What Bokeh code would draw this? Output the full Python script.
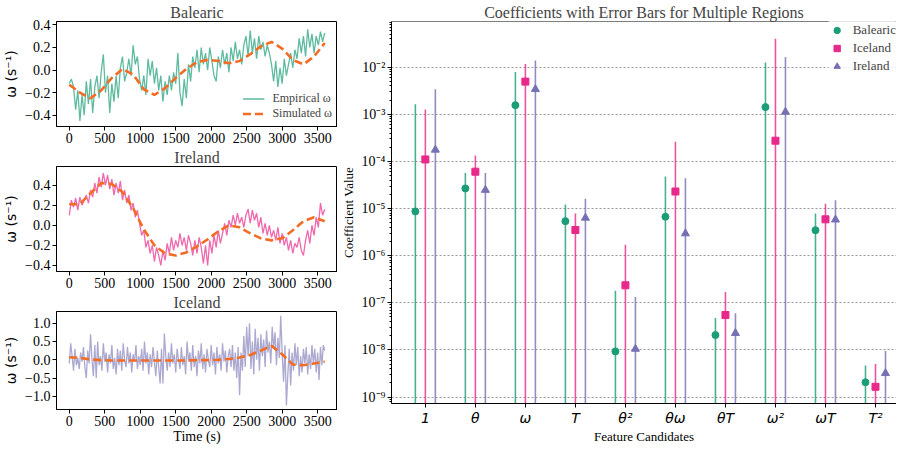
import numpy as np
from bokeh.plotting import figure
from bokeh.models import (ColumnDataSource, Range1d, FixedTicker, CustomJSTickFormatter,
                          Legend, LegendItem, BoxAnnotation)
from bokeh.layouts import row, column
from bokeh.embed import file_html
from bokeh.resources import INLINE

SERIF = "Liberation Serif"
MATH = "DejaVu Sans"

# ---------------- time series data (omega, s^-1) ----------------
balearic_emp = [-0.12, -0.08, -0.15, -0.35, -0.18, -0.45, -0.22, -0.40, -0.10, -0.30,
                -0.08, -0.38, -0.15, -0.05, -0.25, -0.02, 0.14, -0.20, -0.05, -0.38,
                -0.12, -0.28, -0.05, -0.25, 0.02, 0.12, -0.10, -0.02, 0.10, -0.05,
                0.22, 0.05, 0.12, -0.08, -0.18, -0.05, -0.22, 0.10, -0.05, 0.08,
                -0.12, 0.02, -0.18, -0.05, -0.28, -0.10, -0.22, -0.05, -0.18, -0.02,
                -0.12, 0.15, -0.20, -0.32, -0.08, -0.25, 0.05, -0.10, 0.12, 0.02,
                0.18, -0.02, 0.20, 0.05, 0.15, 0.00, 0.20, 0.08, -0.05, -0.10,
                0.12, 0.02, 0.18, 0.05, 0.15, -0.02, 0.20, 0.08, 0.25, 0.10,
                0.18, 0.05, 0.22, 0.30, 0.12, 0.35, 0.15, 0.28, 0.10, 0.30,
                0.18, 0.25, 0.12, 0.22, 0.15, 0.05, -0.10, 0.08, -0.15, 0.02,
                -0.12, 0.10, -0.05, 0.05, 0.15, 0.02, 0.18, 0.10, 0.28, 0.15,
                0.30, 0.12, 0.36, 0.20, 0.32, 0.15, 0.30, 0.22, 0.34, 0.25, 0.33]
balearic_sim = [-0.13, -0.20, -0.25, -0.18, -0.07, 0.01, -0.04, -0.17, -0.22, -0.16,
                -0.07, 0.01, 0.07, 0.09, 0.08, 0.06, 0.08, 0.14, 0.21, 0.25,
                0.19, 0.09, 0.05, 0.12, 0.24]

ireland_emp = [0.10, 0.25, 0.18, 0.27, 0.15, 0.28, 0.20, 0.25, 0.30, 0.22,
               0.35, 0.28, 0.42, 0.32, 0.48, 0.38, 0.52, 0.40, 0.50, 0.36,
               0.46, 0.30, 0.42, 0.32, 0.44, 0.25, 0.35, 0.22, 0.30, 0.15,
               0.22, 0.08, 0.15, 0.02, -0.10, -0.05, -0.22, -0.15, -0.28, -0.20,
               -0.36, -0.22, -0.30, -0.40, -0.25, -0.35, -0.18, -0.28, -0.12, -0.25,
               -0.15, -0.22, -0.08, -0.20, -0.12, -0.25, -0.10, -0.18, -0.30, -0.15,
               -0.28, -0.12, -0.22, -0.38, -0.20, -0.40, -0.15, -0.28, -0.10, -0.22,
               -0.05, -0.18, -0.08, 0.02, -0.10, 0.05, -0.02, 0.10, 0.00, 0.12,
               0.02, 0.08, -0.02, 0.10, 0.16, 0.02, 0.15, 0.05, 0.12, -0.02,
               0.08, -0.08, 0.02, -0.10, 0.00, -0.12, -0.05, -0.15, -0.02, -0.18,
               -0.08, -0.20, -0.12, -0.25, -0.15, -0.28, -0.18, -0.22, -0.12, -0.25,
               -0.30, -0.15, -0.05, -0.18, 0.00, -0.10, 0.08, -0.02, 0.22, 0.10, 0.16]
ireland_sim = [0.21, 0.21, 0.32, 0.42, 0.41, 0.33, 0.17, -0.04, -0.20, -0.28,
               -0.30, -0.27, -0.21, -0.14, -0.06, 0.00, -0.02, -0.08, -0.13, -0.15,
               -0.13, -0.05, 0.04, 0.08, 0.04]

iceland_emp = [-0.10, 0.45, 0.10, -0.30, 0.30, -0.15, 0.05, -0.25, 0.20, -0.05,
               0.35, -0.20, -0.50, 0.25, -0.10, 0.70, 0.00, -0.45, 0.40, -0.50,
               0.50, -0.15, 0.10, -0.30, 0.45, -0.05, 0.20, -0.35, 0.15, -0.10,
               0.40, -0.25, 0.05, -0.40, 0.30, -0.15, 0.25, -0.30, 0.45, 0.00,
               -0.20, 0.35, -0.10, 0.20, -0.35, 0.15, -0.05, 0.40, -0.25, 0.10,
               -0.15, 0.30, -0.30, 0.50, -0.10, 0.20, -0.40, 0.15, -0.20, 0.35,
               -0.05, -0.45, 0.25, -0.20, -0.65, 0.30, -0.65, 0.72, 0.10, -0.30,
               0.20, -0.20, 0.45, -0.10, 0.15, -0.35, 0.30, 0.00, -0.25, 0.35,
               -0.15, 0.10, -0.40, 0.50, -0.05, 0.20, -0.30, 0.40, -0.20, 0.10,
               -0.45, 0.25, -0.10, 0.45, -0.25, 0.15, -0.35, 0.30, 0.00, -0.20,
               0.40, -0.15, 0.20, -0.40, 0.35, -0.10, 0.15, -0.30, 0.45, -0.05,
               0.25, -0.35, 0.10, 0.30, -0.20, 0.40, -0.30, 0.20, -0.50, 0.35,
               -0.97, 0.20, -0.30, 0.65, -0.20, 0.90, 0.10, 1.00, -0.25, 0.50,
               -0.40, 0.85, 0.00, 0.60, -0.30, 0.70, 0.10, 0.55, -0.20, 0.80,
               0.20, 0.50, -0.10, 0.90, 0.30, 0.75, -0.15, 0.60, 0.05, 1.20,
               0.20, -0.60, 0.40, -1.25, -0.40, 0.30, -0.70, 0.20, -0.30, 0.45,
               -0.15, 0.35, -0.45, 0.10, -0.35, 0.30, -0.10, 0.35, -0.40, 0.15,
               -0.25, 0.40, -0.10, 0.30, -0.35, 0.20, -0.55, 0.35, -0.15, 0.40, 0.25]
iceland_sim = [0.07, 0.05, 0.01, -0.01, -0.02, -0.02, -0.02, -0.02, -0.02, -0.02,
               -0.02, -0.02, -0.01, -0.01, 0.00, 0.02, 0.06, 0.13, 0.25, 0.38,
               0.15, -0.13, -0.15, -0.10, -0.05]

time_ticks = [0, 500, 1000, 1500, 2000, 2500, 3000, 3500]
omega_ticks_small = [-0.4, -0.2, 0.0, 0.2, 0.4]
omega_ticks_large = [-1.0, -0.5, 0.0, 0.5, 1.0]

# ---------------- coefficient data ----------------
categories = ["1", "θ", "ω", "T", "θ²", "θω", "θT", "ω²", "ωT", "T²"]
balearic_coef = [8.7e-6, 2.67e-5, 1.56e-3, 5.4e-6, 9.3e-9, 6.7e-6, 2.07e-8, 1.42e-3, 3.47e-6, 2.06e-9]
balearic_err = [1.63e-3, 3.0e-5, 6.3e-3, 6.8e-6, 1.71e-7, 4.1e-5, 2.7e-8, 1.12e-2, 4.4e-6, 2.6e-9]
iceland_coef = [1.1e-4, 6.05e-5, 4.93e-3, 3.5e-6, 2.35e-7, 2.3e-5, 5.5e-8, 2.75e-4, 5.9e-6, 1.65e-9]
iceland_err = [1.15e-3, 7.3e-5, 6.8e-3, 4.35e-6, 1.48e-6, 2.37e-4, 1.15e-7, 3.97e-2, 6.7e-6, 3.35e-9]
ireland_coef = [1.76e-4, 2.47e-5, 3.4e-3, 6.35e-6, 1.05e-8, 2.95e-6, 2.27e-8, 1.12e-3, 5.8e-6, 3.2e-9]
ireland_err = [3.22e-3, 3.23e-5, 1.05e-2, 9.85e-6, 1.215e-7, 4.1e-5, 3.73e-8, 1.52e-2, 9.2e-6, 6.3e-9]
log_ticks = [1e-9, 1e-8, 1e-7, 1e-6, 1e-5, 1e-4, 1e-3, 1e-2]

GREEN, PINK, PURPLE, ORANGE = "#1b9e77", "#e7298a", "#7570b3", "#f36c24"
X_LO, X_HI = -0.677, 9.42
Y_LO, Y_TOP = 7.3e-10, 0.093

num_fmt = CustomJSTickFormatter(code="return tick.toFixed(1).replace('-', '\u2212');")


def style_axes(p):
    for ax in (p.xaxis, p.yaxis):
        ax.major_label_text_font = SERIF
        ax.major_label_text_font_size = "14px"
        ax.major_label_text_color = "black"
        ax.major_label_text_line_height = 1.0
        ax.axis_label_text_font = SERIF
        ax.axis_label_text_font_style = "normal"
        ax.axis_label_text_color = "black"
        ax.axis_label_text_line_height = 1.0
        ax.axis_line_color = "black"
        ax.major_tick_line_color = "black"
        ax.major_tick_out = 4
        ax.major_tick_in = 0
        ax.minor_tick_line_color = None
        ax.major_label_standoff = 2
        ax.axis_label_standoff = 3
    p.xaxis.axis_label_standoff = 0
    p.title.text_font = SERIF
    p.title.text_font_size = "16px"
    p.title.text_font_style = "normal"
    p.title.text_line_height = 1.0
    p.title.align = "center"
    p.title.standoff = 2


def ts_fig(title, emp, sim, color, alpha, yr, yticks, height, xlabel=None, legend=False):
    p = figure(width=337, height=height, output_backend="svg", toolbar_location=None,
               x_range=Range1d(-180, 3780), y_range=Range1d(*yr),
               min_border_left=55, min_border_right=0, min_border_top=0, min_border_bottom=0,
               title=title)
    style_axes(p)
    p.grid.visible = False
    p.outline_line_color = "black"
    p.outline_line_alpha = 1
    p.xaxis.ticker = FixedTicker(ticks=time_ticks)
    p.yaxis.ticker = FixedTicker(ticks=yticks)
    p.yaxis.formatter = num_fmt
    p.yaxis.axis_label = "ω (s⁻¹)"
    p.yaxis.axis_label_text_font = MATH
    p.yaxis.axis_label_text_font_size = "14px"
    if xlabel:
        p.xaxis.axis_label = xlabel
        p.xaxis.axis_label_text_font_size = "14px"
    src_e = ColumnDataSource(dict(t=np.linspace(0, 3600, len(emp)), w=emp))
    src_s = ColumnDataSource(dict(t=np.linspace(0, 3600, len(sim)), w=sim))
    r1 = p.line("t", "w", source=src_e, line_color=color, line_alpha=alpha, line_width=1.3)
    r2 = p.line("t", "w", source=src_s, line_color=ORANGE, line_width=2.6, line_dash="8 4")
    if legend:
        lg = Legend(items=[LegendItem(label="Empirical ω", renderers=[r1]),
                           LegendItem(label="Simulated ω", renderers=[r2])],
                    location="bottom_right", label_text_font=SERIF, label_text_font_size="12px",
                    border_line_color=None, background_fill_alpha=0, glyph_width=22,
                    glyph_height=15, label_height=15, spacing=0, padding=2, margin=5,
                    label_standoff=8)
        p.add_layout(lg)
    return p


p1 = ts_fig("Balearic", balearic_emp, balearic_sim, GREEN, 0.7, (-0.50, 0.43),
            omega_ticks_small, 145, legend=True)
p2 = ts_fig("Ireland", ireland_emp, ireland_sim, PINK, 0.7, (-0.46, 0.585),
            omega_ticks_small, 145)
p3 = ts_fig("Iceland", iceland_emp, iceland_sim, PURPLE, 0.6, (-1.36, 1.32),
            omega_ticks_large, 156, xlabel="Time (s)")

# ---------------- coefficient figure ----------------
p4 = figure(width=559, height=446, output_backend="svg", toolbar_location=None,
            y_axis_type="log", x_range=Range1d(X_LO, X_HI), y_range=Range1d(Y_LO, Y_TOP),
            min_border_left=52, min_border_right=0, min_border_top=0, min_border_bottom=0,
            title="Coefficients with Error Bars for Multiple Regions")
style_axes(p4)
p4.outline_line_color = None
p4.xgrid.visible = False
yt = FixedTicker(ticks=log_ticks,
                 minor_ticks=[k * 10.0 ** e for e in range(-10, -1) for k in range(2, 10)])
p4.yaxis.ticker = yt
p4.ygrid.ticker = yt
p4.ygrid.grid_line_color = "#999999"
p4.ygrid.grid_line_dash = "2 2"
p4.ygrid.grid_line_width = 1
p4.yaxis.minor_tick_line_color = "black"
p4.yaxis.minor_tick_out = 2
p4.yaxis.minor_tick_in = 0
p4.yaxis.formatter = CustomJSTickFormatter(code="""
const sup = {'-':'\u207b','0':'\u2070','1':'\u00b9','2':'\u00b2','3':'\u00b3','4':'\u2074',
             '5':'\u2075','6':'\u2076','7':'\u2077','8':'\u2078','9':'\u2079'};
const e = Math.round(Math.log10(tick));
return '10' + String(e).split('').map(c => sup[c]).join('');
""")
p4.yaxis.axis_label = "Coefficient Value"
p4.yaxis.axis_label_text_font_size = "13px"
p4.xaxis.axis_label = "Feature Candidates"
p4.xaxis.axis_label_text_font_size = "13px"
p4.xaxis.ticker = FixedTicker(ticks=list(range(len(categories))))
p4.xaxis.major_label_overrides = {i: c for i, c in enumerate(categories)}
p4.xaxis.major_label_text_font = MATH
p4.xaxis.major_label_text_font_style = "italic"
p4.xaxis.major_label_text_font_size = "14px"
# frame spines (right edge lies outside the visible page, as in the original figure)
p4.add_layout(BoxAnnotation(left=X_LO, right=X_HI + 5, bottom=Y_LO, top=Y_TOP,
                            fill_alpha=0, line_color="black", line_width=1, line_alpha=1))

series = [("Balearic", balearic_coef, balearic_err, GREEN, "circle", -0.2, 7),
          ("Iceland", iceland_coef, iceland_err, PINK, "square", 0.0, 7),
          ("Ireland", ireland_coef, ireland_err, PURPLE, "triangle", 0.2, 8)]
items = []
for name, coef, err, color, marker, off, size in series:
    c = np.array(coef)
    e = np.array(err)
    src = ColumnDataSource(dict(x=np.arange(len(categories)) + off, y=c,
                                lo=np.maximum(c - e, 1e-12), hi=c + e))
    p4.segment("x", "lo", "x", "hi", source=src, line_color=color, line_width=1.6, line_alpha=0.8)
    r = p4.scatter("x", "y", source=src, marker=marker, size=size, fill_color=color,
                   line_color=color)
    items.append(LegendItem(label=name, renderers=[r]))

p4.add_layout(Legend(items=items, location="top_right", label_text_font=SERIF,
                     label_text_font_size="13px", border_line_color=None,
                     background_fill_alpha=0.8, glyph_width=16, glyph_height=18,
                     label_height=18, spacing=0, padding=9, margin=0, label_standoff=8))

layout = row(column(p1, p2, p3, spacing=0), p4, spacing=0)
open("out.html", "w").write(file_html(layout, INLINE))
